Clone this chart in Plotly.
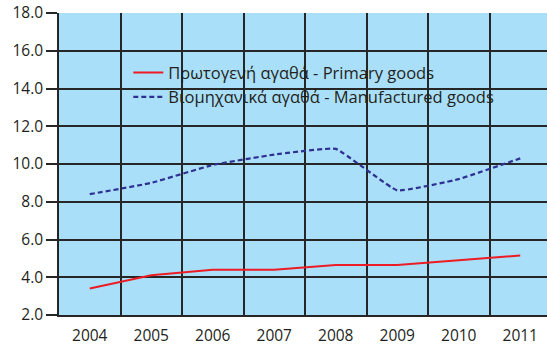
import plotly.graph_objects as go

years = ["2004", "2005", "2006", "2007", "2008", "2009", "2010", "2011"]
primary = [3.4, 4.1, 4.4, 4.4, 4.65, 4.65, 4.9, 5.15]
manufactured = [8.4, 9.0, 9.95, 10.5, 10.8, 8.6, 9.2, 10.3]
primary_name = "Πρωτογενή αγαθά - Primary goods"
manufactured_name = "Βιομηχανικά αγαθά - Manufactured goods"

x = list(range(len(years)))
grid = "#262626"
txt = "#231f20"
font = "'Open Sans', Lato, sans-serif"

fig = go.Figure()
fig.add_trace(go.Scatter(
    x=x, y=primary, name=primary_name, mode="lines",
    line=dict(color="#ed1c24", width=2),
))
fig.add_trace(go.Scatter(
    x=x, y=manufactured, name=manufactured_name, mode="lines",
    line=dict(color="#2e3192", width=2.2, dash="5px,3px", shape="spline", smoothing=0.3),
))

fig.update_layout(
    width=547, height=346,
    margin=dict(l=59, r=0, t=13, b=31),
    paper_bgcolor="white",
    plot_bgcolor="#aadff9",
    font=dict(family=font, size=15.5, color=txt),
    showlegend=True,
    legend=dict(
        x=0.142, y=0.86, xanchor="left", yanchor="top",
        bgcolor="rgba(0,0,0,0)", font=dict(size=16.5, color=txt),
        tracegroupgap=0, itemwidth=30,
    ),
)

fig.update_xaxes(
    range=[-0.5, -0.5 + 488 / 61.5],
    tickmode="array", tickvals=x, ticktext=years,
    showgrid=False, zeroline=False,
    showline=True, linecolor=grid, linewidth=1.5,
    ticks="", ticklabelstandoff=6,
    minor=dict(tickmode="array", tickvals=[i - 0.5 for i in x],
               showgrid=True, gridcolor=grid, gridwidth=1.5, ticks=""),
)
fig.update_yaxes(
    range=[2, 18], tickmode="linear", tick0=2, dtick=2, tickformat=".1f",
    showgrid=True, gridcolor=grid, gridwidth=1.5, zeroline=False,
    showline=True, linecolor=grid, linewidth=1.5,
    ticks="outside", ticklen=11, tickcolor=grid, tickwidth=1.5,
)

fig.write_html("out.html")
